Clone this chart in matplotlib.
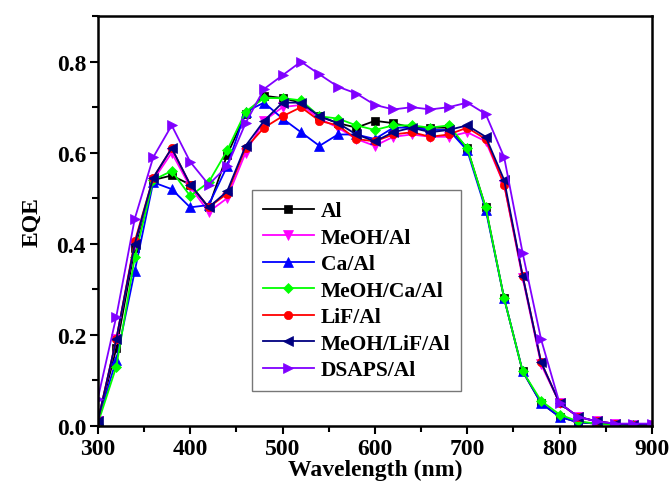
import matplotlib
matplotlib.use('Agg')
import matplotlib.pyplot as plt
from matplotlib.ticker import MultipleLocator

# wavelength grid (nm), one point every 20 nm
wavelength = list(range(300, 901, 20))

eqe_al = [0.01, 0.17, 0.39, 0.54, 0.55, 0.53, 0.48, 0.595, 0.685, 0.725, 0.72, 0.71,
          0.68, 0.665, 0.655, 0.67, 0.665, 0.655, 0.655, 0.655, 0.61, 0.48, 0.28, 0.12,
          0.05, 0.02, 0.008, 0.005, 0.003, 0.002, 0.002]
eqe_meoh_al = [0.01, 0.19, 0.40, 0.54, 0.60, 0.525, 0.47, 0.50, 0.60, 0.67, 0.70, 0.705,
               0.675, 0.655, 0.63, 0.615, 0.635, 0.64, 0.635, 0.635, 0.645, 0.625, 0.53, 0.325,
               0.135, 0.05, 0.02, 0.01, 0.005, 0.003, 0.003]
eqe_ca_al = [0.01, 0.145, 0.34, 0.535, 0.52, 0.48, 0.485, 0.57, 0.69, 0.71, 0.675, 0.645,
             0.615, 0.64, 0.64, 0.63, 0.655, 0.655, 0.65, 0.65, 0.605, 0.475, 0.28, 0.12,
             0.05, 0.02, 0.008, 0.005, 0.003, 0.002, 0.002]
eqe_meoh_ca_al = [0.005, 0.13, 0.37, 0.54, 0.56, 0.505, 0.535, 0.605, 0.69, 0.72, 0.72, 0.715,
                  0.68, 0.675, 0.66, 0.65, 0.66, 0.66, 0.655, 0.66, 0.61, 0.48, 0.28, 0.12,
                  0.055, 0.025, 0.01, 0.005, 0.003, 0.003, 0.003]
eqe_lif_al = [0.01, 0.19, 0.405, 0.545, 0.61, 0.53, 0.48, 0.51, 0.61, 0.655, 0.68, 0.70,
              0.67, 0.66, 0.63, 0.625, 0.64, 0.645, 0.635, 0.64, 0.655, 0.63, 0.53, 0.33,
              0.14, 0.05, 0.02, 0.01, 0.005, 0.003, 0.003]
eqe_meoh_lif_al = [0.01, 0.19, 0.40, 0.545, 0.61, 0.53, 0.48, 0.515, 0.615, 0.67, 0.71, 0.71,
                   0.68, 0.665, 0.64, 0.625, 0.645, 0.655, 0.645, 0.65, 0.66, 0.635, 0.54, 0.33,
                   0.14, 0.05, 0.02, 0.01, 0.005, 0.003, 0.003]
eqe_dsaps_al = [0.06, 0.24, 0.455, 0.59, 0.66, 0.58, 0.53, 0.57, 0.665, 0.74, 0.77, 0.80,
                0.772, 0.745, 0.73, 0.705, 0.695, 0.70, 0.695, 0.70, 0.71, 0.685, 0.59, 0.38,
                0.19, 0.05, 0.02, 0.01, 0.005, 0.005, 0.005]

series = [
    ('Al', eqe_al, 'black', 's'),
    ('MeOH/Al', eqe_meoh_al, '#ff00ff', 'v'),
    ('Ca/Al', eqe_ca_al, '#0000ff', '^'),
    ('MeOH/Ca/Al', eqe_meoh_ca_al, '#00ff00', 'D'),
    ('LiF/Al', eqe_lif_al, '#ff0000', 'o'),
    ('MeOH/LiF/Al', eqe_meoh_lif_al, '#000080', '<'),
    ('DSAPS/Al', eqe_dsaps_al, '#8000ff', '>'),
]

plt.rcParams['font.family'] = 'Liberation Serif'
plt.rcParams['font.weight'] = 'bold'

fig = plt.figure(figsize=(6.7, 4.89), dpi=100)
ax = fig.add_axes([0.146, 0.127, 0.827, 0.838])

for name, vals, col, mk in series:
    ms = 7.5
    if mk in ('s', 'o'):
        ms = 6
    if mk == 'D':
        ms = 5.5
    ax.plot(wavelength, vals, color=col, marker=mk, markersize=ms, linewidth=1.3,
            markeredgewidth=0.5, label=name)

ax.set_xlim(300, 900)
ax.set_ylim(0, 0.9)
ax.xaxis.set_major_locator(MultipleLocator(100))
ax.xaxis.set_minor_locator(MultipleLocator(50))
ax.yaxis.set_minor_locator(MultipleLocator(0.1))
ax.set_yticks([0.0, 0.2, 0.4, 0.6, 0.8])
ax.set_yticklabels(['0.0', '0.2', '0.4', '0.6', '0.8'])

ax.tick_params(which='major', direction='out', length=5.5, width=1.5, labelsize=17, pad=3)
ax.tick_params(which='minor', direction='out', length=4, width=1.5)
for sp in ax.spines.values():
    sp.set_linewidth(1.8)

ax.set_xlabel('Wavelength (nm)', fontsize=17, fontweight='bold', labelpad=0)
ax.set_ylabel('EQE', fontsize=17, fontweight='bold', labelpad=10)

leg = ax.legend(loc='lower left', bbox_to_anchor=(0.278, 0.085), borderaxespad=0,
                fontsize=15.5, frameon=True, fancybox=False, edgecolor='#555555',
                handlelength=2.4, handletextpad=0.3, labelspacing=0.3,
                borderpad=0.5)
leg.get_frame().set_linewidth(1.0)

fig.savefig('out.png', dpi=100)
